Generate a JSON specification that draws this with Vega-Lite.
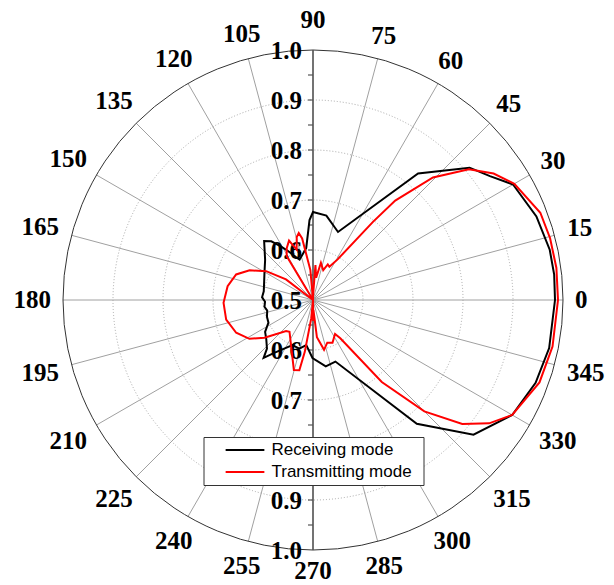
{
  "$schema": "https://vega.github.io/schema/vega-lite/v6.json",
  "width": 560,
  "height": 560,
  "autosize": "none",
  "padding": {"left": 33, "top": 20, "right": 21, "bottom": 5},
  "background": "white",
  "config": {"view": {"stroke": null}, "font": "Liberation Serif"},
  "datasets": {
    "curves": [
      {"mode": "Receiving mode", "a": 0, "r": 0.984},
      {"mode": "Receiving mode", "a": 6, "r": 0.985},
      {"mode": "Receiving mode", "a": 12, "r": 0.984},
      {"mode": "Receiving mode", "a": 20.5, "r": 0.977},
      {"mode": "Receiving mode", "a": 30, "r": 0.962},
      {"mode": "Receiving mode", "a": 35, "r": 0.932},
      {"mode": "Receiving mode", "a": 40.2, "r": 0.91},
      {"mode": "Receiving mode", "a": 50.3, "r": 0.829},
      {"mode": "Receiving mode", "a": 69.8, "r": 0.645},
      {"mode": "Receiving mode", "a": 81, "r": 0.671},
      {"mode": "Receiving mode", "a": 90, "r": 0.676},
      {"mode": "Receiving mode", "a": 92.5, "r": 0.66},
      {"mode": "Receiving mode", "a": 97.4, "r": 0.605},
      {"mode": "Receiving mode", "a": 108.4, "r": 0.585},
      {"mode": "Receiving mode", "a": 112, "r": 0.593},
      {"mode": "Receiving mode", "a": 117, "r": 0.61},
      {"mode": "Receiving mode", "a": 121, "r": 0.625},
      {"mode": "Receiving mode", "a": 125.4, "r": 0.644},
      {"mode": "Receiving mode", "a": 129.7, "r": 0.653},
      {"mode": "Receiving mode", "a": 140, "r": 0.625},
      {"mode": "Receiving mode", "a": 150, "r": 0.612},
      {"mode": "Receiving mode", "a": 160, "r": 0.604},
      {"mode": "Receiving mode", "a": 170, "r": 0.6},
      {"mode": "Receiving mode", "a": 177, "r": 0.602},
      {"mode": "Receiving mode", "a": 182, "r": 0.596},
      {"mode": "Receiving mode", "a": 188, "r": 0.598},
      {"mode": "Receiving mode", "a": 193, "r": 0.594},
      {"mode": "Receiving mode", "a": 200, "r": 0.598},
      {"mode": "Receiving mode", "a": 207, "r": 0.6},
      {"mode": "Receiving mode", "a": 213.6, "r": 0.615},
      {"mode": "Receiving mode", "a": 220, "r": 0.622},
      {"mode": "Receiving mode", "a": 226.6, "r": 0.634},
      {"mode": "Receiving mode", "a": 229.5, "r": 0.652},
      {"mode": "Receiving mode", "a": 234, "r": 0.63},
      {"mode": "Receiving mode", "a": 245.5, "r": 0.599},
      {"mode": "Receiving mode", "a": 254.2, "r": 0.601},
      {"mode": "Receiving mode", "a": 261.5, "r": 0.591},
      {"mode": "Receiving mode", "a": 269.5, "r": 0.616},
      {"mode": "Receiving mode", "a": 280.9, "r": 0.635},
      {"mode": "Receiving mode", "a": 290, "r": 0.631},
      {"mode": "Receiving mode", "a": 310, "r": 0.823},
      {"mode": "Receiving mode", "a": 320, "r": 0.919},
      {"mode": "Receiving mode", "a": 330, "r": 0.96},
      {"mode": "Receiving mode", "a": 339.6, "r": 0.975},
      {"mode": "Receiving mode", "a": 348.5, "r": 0.982},
      {"mode": "Receiving mode", "a": 360, "r": 0.984},
      {"mode": "Transmitting mode", "a": 0, "r": 0.99},
      {"mode": "Transmitting mode", "a": 7.5, "r": 0.991},
      {"mode": "Transmitting mode", "a": 14.6, "r": 0.99},
      {"mode": "Transmitting mode", "a": 21, "r": 0.987},
      {"mode": "Transmitting mode", "a": 30, "r": 0.965},
      {"mode": "Transmitting mode", "a": 35, "r": 0.941},
      {"mode": "Transmitting mode", "a": 40, "r": 0.907},
      {"mode": "Transmitting mode", "a": 45.6, "r": 0.843},
      {"mode": "Transmitting mode", "a": 50.4, "r": 0.758},
      {"mode": "Transmitting mode", "a": 52.5, "r": 0.697},
      {"mode": "Transmitting mode", "a": 58.8, "r": 0.595},
      {"mode": "Transmitting mode", "a": 63.7, "r": 0.574},
      {"mode": "Transmitting mode", "a": 67.4, "r": 0.577},
      {"mode": "Transmitting mode", "a": 71, "r": 0.563},
      {"mode": "Transmitting mode", "a": 78, "r": 0.576},
      {"mode": "Transmitting mode", "a": 82, "r": 0.545},
      {"mode": "Transmitting mode", "a": 86, "r": 0.57},
      {"mode": "Transmitting mode", "a": 89, "r": 0.51},
      {"mode": "Transmitting mode", "a": 90, "r": 0.5},
      {"mode": "Transmitting mode", "a": 95, "r": 0.56},
      {"mode": "Transmitting mode", "a": 100, "r": 0.625},
      {"mode": "Transmitting mode", "a": 102, "r": 0.637},
      {"mode": "Transmitting mode", "a": 104.5, "r": 0.63},
      {"mode": "Transmitting mode", "a": 108, "r": 0.606},
      {"mode": "Transmitting mode", "a": 112, "r": 0.628},
      {"mode": "Transmitting mode", "a": 117, "r": 0.616},
      {"mode": "Transmitting mode", "a": 121, "r": 0.602},
      {"mode": "Transmitting mode", "a": 135, "r": 0.5},
      {"mode": "Transmitting mode", "a": 142.6, "r": 0.568},
      {"mode": "Transmitting mode", "a": 148.4, "r": 0.61},
      {"mode": "Transmitting mode", "a": 154.9, "r": 0.64},
      {"mode": "Transmitting mode", "a": 161.6, "r": 0.662},
      {"mode": "Transmitting mode", "a": 170.8, "r": 0.673},
      {"mode": "Transmitting mode", "a": 181.8, "r": 0.679},
      {"mode": "Transmitting mode", "a": 192.7, "r": 0.678},
      {"mode": "Transmitting mode", "a": 203.1, "r": 0.667},
      {"mode": "Transmitting mode", "a": 211.4, "r": 0.649},
      {"mode": "Transmitting mode", "a": 217.9, "r": 0.623},
      {"mode": "Transmitting mode", "a": 229, "r": 0.582},
      {"mode": "Transmitting mode", "a": 233.5, "r": 0.579},
      {"mode": "Transmitting mode", "a": 254.7, "r": 0.645},
      {"mode": "Transmitting mode", "a": 259, "r": 0.643},
      {"mode": "Transmitting mode", "a": 261, "r": 0.605},
      {"mode": "Transmitting mode", "a": 264.5, "r": 0.537},
      {"mode": "Transmitting mode", "a": 267, "r": 0.5},
      {"mode": "Transmitting mode", "a": 270.5, "r": 0.542},
      {"mode": "Transmitting mode", "a": 272.5, "r": 0.52},
      {"mode": "Transmitting mode", "a": 276, "r": 0.575},
      {"mode": "Transmitting mode", "a": 282.5, "r": 0.602},
      {"mode": "Transmitting mode", "a": 288.5, "r": 0.59},
      {"mode": "Transmitting mode", "a": 294.5, "r": 0.594},
      {"mode": "Transmitting mode", "a": 303, "r": 0.581},
      {"mode": "Transmitting mode", "a": 305.5, "r": 0.594},
      {"mode": "Transmitting mode", "a": 310, "r": 0.714},
      {"mode": "Transmitting mode", "a": 315, "r": 0.815},
      {"mode": "Transmitting mode", "a": 320.3, "r": 0.888},
      {"mode": "Transmitting mode", "a": 325, "r": 0.93},
      {"mode": "Transmitting mode", "a": 330, "r": 0.96},
      {"mode": "Transmitting mode", "a": 340, "r": 0.982},
      {"mode": "Transmitting mode", "a": 349, "r": 0.988},
      {"mode": "Transmitting mode", "a": 360, "r": 0.99}
    ],
    "spokes": [
      {"a": 0}, {"a": 15}, {"a": 30}, {"a": 45}, {"a": 60}, {"a": 75},
      {"a": 90}, {"a": 105}, {"a": 120}, {"a": 135}, {"a": 150}, {"a": 165},
      {"a": 180}, {"a": 195}, {"a": 210}, {"a": 225}, {"a": 240}, {"a": 255},
      {"a": 270}, {"a": 285}, {"a": 300}, {"a": 315}, {"a": 330}, {"a": 345}
    ],
    "rings": [{"r": 0.6}, {"r": 0.7}, {"r": 0.8}, {"r": 0.9}, {"r": 1.0}],
    "ticks": [
      {"a": 90, "r": 0.55}, {"a": 90, "r": 0.6}, {"a": 90, "r": 0.65}, {"a": 90, "r": 0.7}, {"a": 90, "r": 0.75},
      {"a": 90, "r": 0.8}, {"a": 90, "r": 0.85}, {"a": 90, "r": 0.9}, {"a": 90, "r": 0.95},
      {"a": 270, "r": 0.55}, {"a": 270, "r": 0.6}, {"a": 270, "r": 0.65}, {"a": 270, "r": 0.7}, {"a": 270, "r": 0.75},
      {"a": 270, "r": 0.8}, {"a": 270, "r": 0.85}, {"a": 270, "r": 0.9}, {"a": 270, "r": 0.95}
    ],
    "rlabels": [
      {"a": 90, "r": 0.5}, {"a": 90, "r": 0.6}, {"a": 90, "r": 0.7}, {"a": 90, "r": 0.8}, {"a": 90, "r": 0.9}, {"a": 90, "r": 1.0},
      {"a": 270, "r": 0.6}, {"a": 270, "r": 0.7}, {"a": 270, "r": 0.8}, {"a": 270, "r": 0.9}, {"a": 270, "r": 1.0}
    ]
  },
  "layer": [
    {
      "data": {"name": "spokes"},
      "transform": [
        {"calculate": "0", "as": "x1"},
        {"calculate": "0", "as": "y1"},
        {"calculate": "0.5*cos(datum.a*PI/180)", "as": "x2"},
        {"calculate": "0.5*sin(datum.a*PI/180)", "as": "y2"}
      ],
      "mark": {"type": "rule", "stroke": "#a0a0a0", "strokeWidth": 1},
      "encoding": {
        "x": {"field": "x1", "type": "quantitative", "scale": {"domain": [-0.56, 0.56], "nice": false}, "axis": null},
        "y": {"field": "y1", "type": "quantitative", "scale": {"domain": [-0.56, 0.56], "nice": false}, "axis": null},
        "x2": {"field": "x2"},
        "y2": {"field": "y2"}
      }
    },
    {
      "data": {"name": "rings"},
      "transform": [
        {"filter": "datum.r < 1"},
        {"calculate": "datum.r - 0.5", "as": "d"},
        {"calculate": "0", "as": "x"},
        {"calculate": "0", "as": "y"}
      ],
      "mark": {"type": "point", "shape": "circle", "filled": false, "stroke": "#a8a8a8", "strokeWidth": 1, "strokeDash": [1, 2], "opacity": 1},
      "encoding": {
        "x": {"field": "x", "type": "quantitative", "scale": {"domain": [-0.56, 0.56], "nice": false}, "axis": null},
        "y": {"field": "y", "type": "quantitative", "scale": {"domain": [-0.56, 0.56], "nice": false}, "axis": null},
        "size": {"field": "d", "type": "quantitative", "scale": {"type": "pow", "exponent": 2, "domain": [0, 0.5], "range": [0, 250000], "zero": true, "nice": false}, "legend": null}
      }
    },
    {
      "data": {"name": "rings"},
      "transform": [
        {"filter": "datum.r >= 1"},
        {"calculate": "datum.r - 0.5", "as": "d"},
        {"calculate": "0", "as": "x"},
        {"calculate": "0", "as": "y"}
      ],
      "mark": {"type": "point", "shape": "circle", "filled": false, "stroke": "#333333", "strokeWidth": 1, "opacity": 1},
      "encoding": {
        "x": {"field": "x", "type": "quantitative", "scale": {"domain": [-0.56, 0.56], "nice": false}, "axis": null},
        "y": {"field": "y", "type": "quantitative", "scale": {"domain": [-0.56, 0.56], "nice": false}, "axis": null},
        "size": {"field": "d", "type": "quantitative", "scale": {"type": "pow", "exponent": 2, "domain": [0, 0.5], "range": [0, 250000], "zero": true, "nice": false}, "legend": null}
      }
    },
    {
      "data": {"name": "spokes"},
      "transform": [
        {"filter": "datum.a == 90 || datum.a == 270"},
        {"calculate": "0", "as": "x1"},
        {"calculate": "0", "as": "y1"},
        {"calculate": "0.5*cos(datum.a*PI/180)", "as": "x2"},
        {"calculate": "0.5*sin(datum.a*PI/180)", "as": "y2"}
      ],
      "mark": {"type": "rule", "stroke": "#555555", "strokeWidth": 1.5},
      "encoding": {
        "x": {"field": "x1", "type": "quantitative", "scale": {"domain": [-0.56, 0.56], "nice": false}, "axis": null},
        "y": {"field": "y1", "type": "quantitative", "scale": {"domain": [-0.56, 0.56], "nice": false}, "axis": null},
        "x2": {"field": "x2"},
        "y2": {"field": "y2"}
      }
    },
    {
      "data": {"name": "ticks"},
      "transform": [
        {"calculate": "(datum.r-0.5)*sin(datum.a*PI/180)", "as": "y"},
        {"calculate": "0", "as": "x1"},
        {"calculate": "-0.01", "as": "x2"}
      ],
      "mark": {"type": "rule", "stroke": "#555555", "strokeWidth": 1.2},
      "encoding": {
        "x": {"field": "x1", "type": "quantitative", "scale": {"domain": [-0.56, 0.56], "nice": false}, "axis": null},
        "x2": {"field": "x2"},
        "y": {"field": "y", "type": "quantitative", "scale": {"domain": [-0.56, 0.56], "nice": false}, "axis": null}
      }
    },
    {
      "data": {"name": "rlabels"},
      "transform": [
        {"calculate": "0", "as": "x"},
        {"calculate": "(datum.r-0.5)*sin(datum.a*PI/180)", "as": "y"}
      ],
      "mark": {"type": "text", "align": "right", "baseline": "middle", "dx": -11, "dy": 1, "font": "Liberation Serif", "fontWeight": "bold", "fontSize": 25, "color": "#000000"},
      "encoding": {
        "x": {"field": "x", "type": "quantitative", "scale": {"domain": [-0.56, 0.56], "nice": false}, "axis": null},
        "y": {"field": "y", "type": "quantitative", "scale": {"domain": [-0.56, 0.56], "nice": false}, "axis": null},
        "text": {"field": "r", "type": "quantitative", "format": ".1f"}
      }
    },
    {
      "data": {"name": "curves"},
      "transform": [
        {"calculate": "(datum.r-0.5)*cos(datum.a*PI/180)", "as": "x"},
        {"calculate": "(datum.r-0.5)*sin(datum.a*PI/180)", "as": "y"}
      ],
      "mark": {"type": "line", "strokeWidth": 2},
      "encoding": {
        "x": {"field": "x", "type": "quantitative", "scale": {"domain": [-0.56, 0.56], "nice": false}, "axis": null},
        "y": {"field": "y", "type": "quantitative", "scale": {"domain": [-0.56, 0.56], "nice": false}, "axis": null},
        "order": {"field": "a", "type": "quantitative"},
        "color": {
          "field": "mode", "type": "nominal",
          "scale": {"domain": ["Receiving mode", "Transmitting mode"], "range": ["#000000", "#ff0000"]},
          "legend": {
            "title": "\u00a0", "titleOrient": "right", "titlePadding": 8, "titleFontSize": 17, "titleFont": "Liberation Sans",
            "orient": "none", "legendX": 170.5, "legendY": 417,
            "strokeColor": "#333333", "fillColor": "#ffffff", "padding": 4,
            "labelFont": "Liberation Sans", "labelFontSize": 17, "labelColor": "#000000",
            "symbolType": "stroke", "symbolSize": 1500, "symbolStrokeWidth": 2,
            "clipHeight": 18, "symbolOffset": 17, "labelOffset": 6, "rowPadding": 4
          }
        }
      }
    },
    {
      "data": {"name": "spokes"},
      "transform": [
        {"calculate": "(262 + 6.25*length(toString(datum.a))*abs(cos(datum.a*PI/180)) + 8.5*abs(sin(datum.a*PI/180)) + (datum.a == 90 ? 10 : 0))/500", "as": "d"},
        {"calculate": "datum.d*cos(datum.a*PI/180)", "as": "x"},
        {"calculate": "datum.d*sin(datum.a*PI/180)", "as": "y"}
      ],
      "mark": {"type": "text", "align": "center", "baseline": "middle", "font": "Liberation Serif", "fontWeight": "bold", "fontSize": 25, "color": "#000000"},
      "encoding": {
        "x": {"field": "x", "type": "quantitative", "scale": {"domain": [-0.56, 0.56], "nice": false}, "axis": null},
        "y": {"field": "y", "type": "quantitative", "scale": {"domain": [-0.56, 0.56], "nice": false}, "axis": null},
        "text": {"field": "a", "type": "quantitative", "format": "d"}
      }
    }
  ]
}
